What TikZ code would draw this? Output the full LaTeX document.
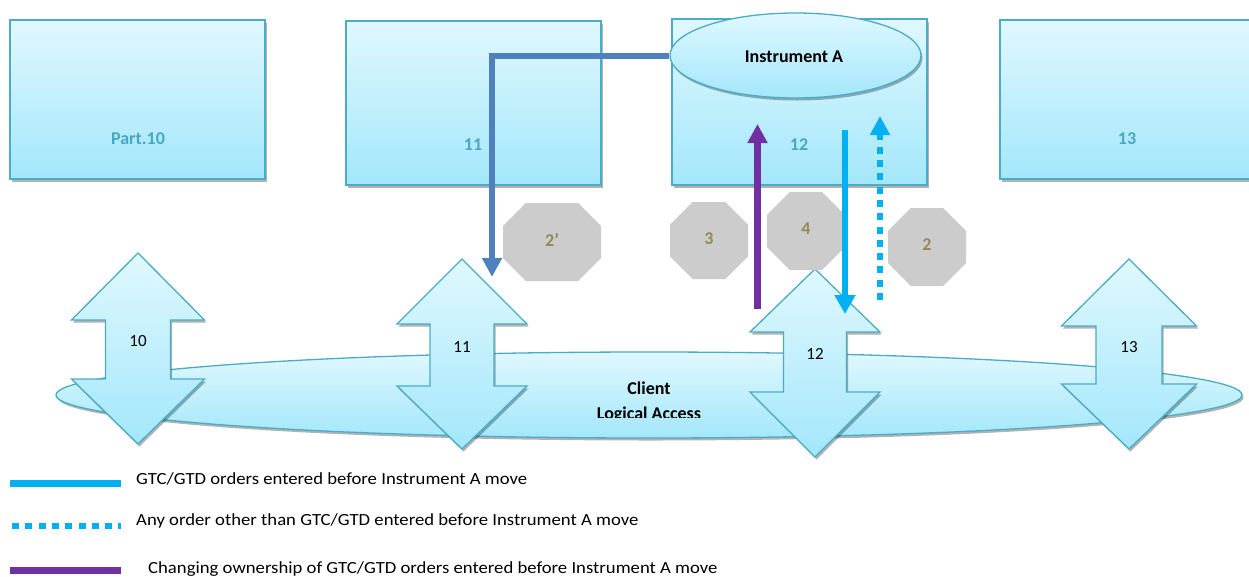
\documentclass[tikz,border=0pt]{standalone}
\usepackage{fontspec}
\setmainfont{Carlito}
\newfontfamily\legfont[FakeStretch=1.1]{Carlito}
\usetikzlibrary{shadows,arrows.meta,shapes.geometric}
\definecolor{boxedge}{RGB}{75,172,198}
\definecolor{boxtop}{RGB}{224,248,254}
\definecolor{boxbot}{RGB}{163,231,251}
\definecolor{labteal}{RGB}{72,168,196}
\definecolor{steel}{RGB}{79,129,189}
\definecolor{purp}{RGB}{112,48,160}
\definecolor{cyanl}{RGB}{0,176,240}
\definecolor{octgray}{RGB}{204,204,204}
\definecolor{olivetxt}{RGB}{148,138,84}
\tikzset{
  shad/.style={drop shadow={shadow xshift=1.5pt, shadow yshift=-2.5pt, opacity=0.3, fill=black}},
  panel/.style={draw=boxedge, line width=1.5pt, top color=boxtop, bottom color=boxbot, shad, inner sep=0pt},
  panellab/.style={font=\fontsize{18}{20}\selectfont\bfseries, text=labteal, inner sep=0pt},
  ovalnode/.style={ellipse, draw=boxedge, line width=1.3pt, top color=boxtop, bottom color=boxbot, shad, inner sep=0pt},
  ovaltext/.style={font=\fontsize{18}{20}\selectfont\bfseries, text=black, inner sep=0pt},
  darrow/.style={draw=boxedge, line width=1.3pt, top color=boxtop, bottom color=boxbot, line join=miter, shad},
  arrtext/.style={font=\fontsize{17}{19}\selectfont, text=black, inner sep=0pt},
  octtext/.style={font=\fontsize{18}{20}\selectfont\bfseries, text=olivetxt, inner sep=0pt},
  bluepath/.style={draw=steel, line width=6pt, -{Triangle[width=19pt,length=19pt]}},
  purppath/.style={draw=purp, line width=6.5pt, -{Triangle[width=19pt,length=19pt]}},
  cyanpath/.style={draw=cyanl, line width=6pt, -{Triangle[width=20pt,length=19pt]}},
  cyandots/.style={draw=cyanl, line width=6pt, dash pattern=on 7pt off 6.3pt, -{Triangle[width=19pt,length=19pt]}},
  legsolid/.style={draw=cyanl, line width=7pt},
  legdots/.style={draw=cyanl, line width=6pt, dash pattern=on 7pt off 6.3pt},
  legpurp/.style={draw=purp, line width=7pt},
  legtext/.style={font=\legfont\fontsize{17}{19}\selectfont, text=black, inner sep=0pt, anchor=base west}
}
\newcommand{\myudarrow}[8]{%
  \path[darrow] (#2,#3) -- ({#2+#7},#4) -- ({#2+#8},#4) -- ({#2+#8},#5) -- ({#2+#7},#5)
    -- (#2,#6) -- ({#2-#7},#5) -- ({#2-#8},#5) -- ({#2-#8},#4) -- ({#2-#7},#4) -- cycle;
  \node[arrtext] (da#1) at (#2,{(#4+#5)/2-8}) {#1};
}
\newcommand{\myoctshape}[6]{%
  \pgfmathsetmacro\myoc{0.293*min(#4,#5)}%
  \pgfmathsetmacro\myohw{#4/2}%
  \pgfmathsetmacro\myohh{#5/2}%
  \fill[octgray] ({#2-\myohw+\myoc},{#3-\myohh}) -- ({#2+\myohw-\myoc},{#3-\myohh})
    -- ({#2+\myohw},{#3-\myohh+\myoc}) -- ({#2+\myohw},{#3+\myohh-\myoc})
    -- ({#2+\myohw-\myoc},{#3+\myohh}) -- ({#2-\myohw+\myoc},{#3+\myohh})
    -- ({#2-\myohw},{#3+\myohh-\myoc}) -- ({#2-\myohw},{#3-\myohh+\myoc}) -- cycle;
  \node[octtext] (#1) at (#2,{#3-2}) {#6};
}
\begin{document}
\begin{tikzpicture}[x=1pt,y=-1pt]
\useasboundingbox (0,0) rectangle (1249,576);
% top panels
\node[panel, minimum width=255pt, minimum height=159pt] (b10) at (137.5,99.5) {};
\node[panel, minimum width=255pt, minimum height=164pt] (b11) at (473.5,103) {};
\node[panel, minimum width=255pt, minimum height=166pt] (b12) at (799.5,102) {};
\node[panel, minimum width=255pt, minimum height=159pt] (b13) at (1127.5,99.5) {};
\node[panellab] (l10) at (138,139) {Part.10};
\node[panellab] (l11) at (473,145) {11};
\node[panellab] (l12) at (799,145) {12};
\node[panellab] (l13) at (1127,139) {13};
% instrument ellipse
\node[ovalnode, minimum width=251pt, minimum height=85pt] (instA) at (795.5,55.5) {};
\node[ovaltext] (instAt) at (794,57) {Instrument A};
% blue connector
\coordinate (blEnd) at (492,277);
\draw[bluepath] (instA.west) -| (blEnd);
% client ellipse
\node[ovalnode, minimum width=1186pt, minimum height=86pt] (client) at (649,395) {};
\node[ovaltext, anchor=base] (clientT) at (649,394) {Client};
\begin{scope}
  \clip (450,398) rectangle (850,417);
  \node[ovaltext, anchor=base] (clientL) at (649,419) {Logical Access};
\end{scope}
% double arrows
\myudarrow{10}{138}{253}{320}{379}{444}{66.5}{32.5}
\myudarrow{11}{462}{259}{324}{386}{449}{65}{32}
\myudarrow{12}{815}{269}{332}{392}{457}{65}{31.5}
\myudarrow{13}{1129}{259}{326}{384}{449}{67.5}{33}
% octagons
\myoctshape{o2p}{552}{242}{98}{78}{2’}
\myoctshape{o3}{709}{240.5}{78}{77}{3}
\myoctshape{o4}{806}{231}{78}{78}{4}
\myoctshape{o2}{927}{247}{78}{78}{2}
% flow arrows
\coordinate (pS) at (757.5,309);
\coordinate (pE) at (757.5,124);
\draw[purppath] (pS) -- (pE);
\coordinate (cS) at (845,130);
\coordinate (cE) at (845,314);
\draw[cyanpath] (cS) -- (cE);
\coordinate (dS) at (880,300);
\coordinate (dE) at (880,116);
\draw[cyandots] (dS) -- (dE);
% legend
\coordinate (g1a) at (10,483.5); \coordinate (g1b) at (121,483.5);
\draw[legsolid] (g1a) -- (g1b);
\node[legtext] (t1) at (136,484) {GTC/GTD orders entered before Instrument A move};
\coordinate (g2a) at (12,526); \coordinate (g2b) at (121,526);
\draw[legdots] (g2a) -- (g2b);
\node[legtext] (t2) at (136,525) {Any order other than GTC/GTD entered before Instrument A move};
\coordinate (g3a) at (10,570.5); \coordinate (g3b) at (121,570.5);
\draw[legpurp] (g3a) -- (g3b);
\node[legtext] (t3) at (148,573) {Changing ownership of GTC/GTD orders entered before Instrument A move};
\end{tikzpicture}
\end{document}
